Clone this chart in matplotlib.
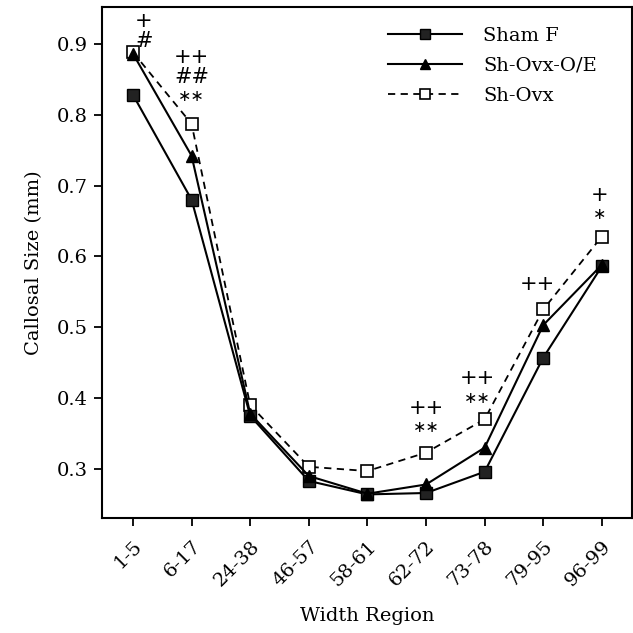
import matplotlib
matplotlib.use('Agg')
import matplotlib.pyplot as plt

plt.rcParams['font.family'] = ['DejaVu Serif']

regions = ['1-5', '6-17', '24-38', '46-57', '58-61', '62-72', '73-78', '79-95', '96-99']
sham_f = [0.828, 0.680, 0.375, 0.283, 0.264, 0.266, 0.296, 0.457, 0.586]
sh_ovx_oe = [0.886, 0.742, 0.378, 0.290, 0.265, 0.278, 0.330, 0.503, 0.588]
sh_ovx = [0.888, 0.787, 0.390, 0.303, 0.297, 0.323, 0.370, 0.525, 0.628]

# significance marks (region index, symbol), stacked bottom -> top
marks = [
    (0, ['#', '+']),
    (1, ['\u2217\u2217', '##', '++']),
    (5, ['\u2217\u2217', '++']),
    (6, ['\u2217\u2217', '++']),
    (7, ['++']),
    (8, ['\u2217', '+']),
]
# x offset (px) and first y offset (px) of each stack above the Sh-Ovx point
mark_dx = [11, 0, 0, -7, -6, -2]
mark_dy = [11, 27, 25, 21, 25, 22]

fig = plt.figure(figsize=(6.33, 6.33), dpi=100)
ax = fig.add_axes([0.161, 0.182, 0.837, 0.807])

x = list(range(len(regions)))
ax.plot(x, sham_f, '-', color='black', lw=1.5, marker='s', ms=8.5,
        mfc='#222222', mec='black', label='Sham F', zorder=3)
ax.plot(x, sh_ovx_oe, '-', color='black', lw=1.5, marker='^', ms=9,
        mfc='black', mec='black', label='Sh-Ovx-O/E', zorder=3)
ax.plot(x, sh_ovx, '--', color='black', lw=1.3, dashes=(4, 3), marker='s', ms=8.5,
        mfc='white', mec='black', mew=1.2, label='Sh-Ovx', zorder=2)

px = 72 / 100.0
for (i, syms), dx, dy in zip(marks, mark_dx, mark_dy):
    for k, s in enumerate(syms):
        size = 11.5 if '\u2217' in s else 15
        ax.annotate(s, (x[i], sh_ovx[i]),
                    xytext=(dx * px, (dy + 20 * k) * px),
                    textcoords='offset points', ha='center', va='center',
                    fontsize=size, family='DejaVu Sans')

ax.set_xlim(-0.53, 8.51)
ax.set_ylim(0.231, 0.952)
ax.set_xticks(x)
ax.set_xticklabels(regions, rotation=45, ha='right', va='top', rotation_mode='anchor')
ax.set_yticks([0.3, 0.4, 0.5, 0.6, 0.7, 0.8, 0.9])
ax.set_yticklabels(['0.3', '0.4', '0.5', '0.6', '0.7', '0.8', '0.9'])
ax.tick_params(direction='out', length=6, width=1.3, labelsize=14, pad=4)
ax.tick_params(axis='x', pad=8)
for sp in ax.spines.values():
    sp.set_linewidth(1.5)

ax.set_xlabel('Width Region', fontsize=14, labelpad=12)
ax.set_ylabel('Callosal Size (mm)', fontsize=14, labelpad=10)

ax.legend(loc='upper left', bbox_to_anchor=(0.613, 0.957), bbox_transform=fig.transFigure,
          frameon=False, fontsize=14, handlelength=3.8, handletextpad=1.1,
          labelspacing=0.6, borderpad=0, borderaxespad=0, markerscale=0.85)

fig.savefig('out.png', dpi=100)
